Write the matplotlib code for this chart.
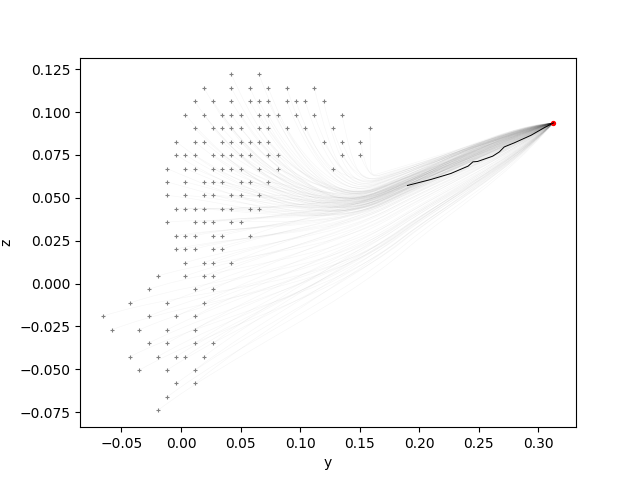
import numpy as np
import matplotlib
matplotlib.use('Agg')
import matplotlib.pyplot as plt
from matplotlib.path import Path
from matplotlib.patches import PathPatch
from matplotlib.collections import PatchCollection

# lattice of start positions (y columns, z rows)
col_y = [-0.0659, -0.0582, -0.0505, -0.0427, -0.0350, -0.0273, -0.0195, -0.0118,
         -0.0041, 0.0037, 0.0114, 0.0191, 0.0269, 0.0346, 0.0423, 0.0501,
         0.0578, 0.0655, 0.0732, 0.0810, 0.0887, 0.0964, 0.1042, 0.1119,
         0.1196, 0.1273, 0.1351, 0.1428, 0.1505, 0.1583]
row_z = [0.1220, 0.1142, 0.1063, 0.0985, 0.0906, 0.0828, 0.0750, 0.0671,
         0.0593, 0.0514, 0.0436, 0.0358, 0.0279, 0.0201, 0.0122, 0.0044,
         -0.0034, -0.0113, -0.0191, -0.0270, -0.0348, -0.0426, -0.0505,
         -0.0583, -0.0662, -0.0740]
# which columns hold a start point, one list per row
start_cols = [
    [14, 17],
    [11, 14, 16, 18, 20, 23],
    [10, 12, 14, 16, 17, 18, 20, 21, 22, 24],
    [9, 11, 13, 14, 15, 17, 18, 19, 21, 23, 26],
    [10, 12, 13, 14, 15, 17, 18, 20, 22, 25, 29],
    [8, 10, 11, 13, 14, 15, 16, 17, 18, 24, 26, 28],
    [8, 9, 10, 12, 13, 14, 15, 16, 18, 19, 26, 28],
    [7, 9, 10, 12, 13, 14, 15, 17, 19, 25],
    [7, 9, 11, 12, 13, 15, 16, 18],
    [7, 9, 11, 12, 14, 15, 17],
    [8, 9, 10, 11, 13, 14, 16, 17],
    [7, 10, 11, 12, 14, 15],
    [8, 9, 10, 12, 13, 16],
    [8, 9, 10, 12, 13],
    [9, 11, 12, 14],
    [6, 9, 11, 12],
    [5, 10, 12],
    [3, 7, 11],
    [0, 5, 8, 10],
    [1, 4, 7, 10],
    [5, 7, 10, 12],
    [3, 6, 8, 9, 11],
    [4, 7, 10],
    [8, 10],
    [7],
    [6],
]

# demonstrated path (black) and goal (red)
demo_y = [0.1900, 0.2097, 0.2265, 0.2410, 0.2450, 0.2489, 0.2616, 0.2672,
          0.2713, 0.2798, 0.2938, 0.3051, 0.3126]
demo_z = [0.0572, 0.0607, 0.0642, 0.0685, 0.0710, 0.0712, 0.0743, 0.0768,
          0.0797, 0.0821, 0.0865, 0.0910, 0.0937]
goal_y = 0.3126
goal_z = 0.0937

starts = []
for j, cols in enumerate(start_cols):
    for c in cols:
        starts.append((col_y[c], row_z[j]))
starts = np.array(starts)

fig, ax = plt.subplots()

g = np.array([goal_y, goal_z])
end_dir = np.array([demo_y[-1] - demo_y[-3], demo_z[-1] - demo_z[-3]])
end_dir = end_dir / np.linalg.norm(end_dir)
patches = []
for s in starts:
    # point where the rollout falls in with the others
    jp = np.array([0.178 - 0.15 * s[1],
                   0.053 + 0.25 * min(s[1] - 0.03, 0) + 0.1 * (s[0] - 0.05)])
    u = (g - jp) / np.linalg.norm(g - jp)
    d1 = np.linalg.norm(jp - s)
    d2 = np.linalg.norm(g - jp)
    pull = 0.8 if s[1] > jp[1] else 0.35
    p1 = [s[0] + 0.3 * (jp[0] - s[0]), s[1] + pull * (jp[1] - s[1])]
    p2 = jp - 0.3 * d1 * u
    q1 = jp + d2 / 3 * u
    q2 = g - d2 / 3 * end_dir + np.array([0, 0.18 * (s[1] - 0.03)])
    verts = [s, p1, p2, jp, q1, q2, g]
    codes = [Path.MOVETO] + [Path.CURVE4] * 6
    patches.append(PathPatch(Path(verts, codes)))

ax.add_collection(PatchCollection(patches, facecolor='none', edgecolor='black',
                                  alpha=0.035, linewidth=0.5), autolim=False)
ax.plot(demo_y, demo_z, color='black', linewidth=0.7)
ax.scatter(starts[:, 0], starts[:, 1], marker='+', s=8, c='gray', linewidths=0.8)
ax.scatter([goal_y], [goal_z], c='red', s=8)

ax.set_xlabel('y')
ax.set_ylabel('z')
plt.savefig('out.png')
